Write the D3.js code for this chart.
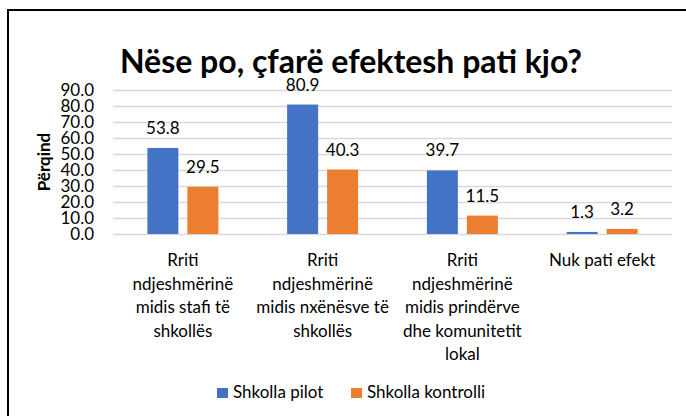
<!DOCTYPE html>
<html>
<head>
<meta charset="utf-8">
<script src="https://cdn.jsdelivr.net/npm/d3@7"></script>
<style>
  body { margin: 0; background: #fff; }
  text { font-family: Lato, "Liberation Sans", sans-serif; fill: #000; }
</style>
</head>
<body>
<div id="chart"></div>
<script>
// data
var categories = ["cat1", "cat2", "cat3", "cat4"];
var catLabels = [
  ["Rriti", "ndjeshmërinë", "midis stafi të", "shkollës"],
  ["Rriti", "ndjeshmërinë", "midis nxënësve të", "shkollës"],
  ["Rriti", "ndjeshmërinë", "midis prindërve", "dhe komunitetit", "lokal"],
  ["Nuk pati efekt"]
];
var seriesNames = ["Shkolla pilot", "Shkolla kontrolli"];
var pilot = [53.8, 80.9, 39.7, 1.3];
var kontrolli = [29.5, 40.3, 11.5, 3.2];
var yTicks = [0, 10, 20, 30, 40, 50, 60, 70, 80, 90];

var colors = ["#4472C4", "#ED7D31"];
var width = 686, height = 416;

var data = categories.map(function(c, i) {
  return { cat: c, values: [pilot[i], kontrolli[i]] };
});

var svg = d3.select("#chart")
  .append("svg")
  .attr("width", width)
  .attr("height", height);

// outer frame (cut off on the right and bottom)
svg.append("rect")
  .attr("x", 8).attr("y", 10)
  .attr("width", 720).attr("height", 440)
  .attr("fill", "none")
  .attr("stroke", "#000")
  .attr("stroke-width", 2);

// title
svg.append("text")
  .attr("x", 351).attr("y", 73)
  .attr("text-anchor", "middle")
  .style("font-weight", "bold")
  .style("font-size", "32px")
  .text("Nëse po, çfarë efektesh pati kjo?");

// scales
var x0 = d3.scaleBand()
  .domain(categories)
  .range([113, 672])
  .padding(0);

var x1 = d3.scaleBand()
  .domain([0, 1])
  .range([0, x0.bandwidth()])
  .paddingInner(0.225)
  .paddingOuter(0.86);

var y = d3.scaleLinear()
  .domain([0, 90])
  .range([234, 90]);

// gridlines
svg.append("g")
  .selectAll("line")
  .data(yTicks)
  .enter()
  .append("line")
  .attr("x1", 113).attr("x2", 672)
  .attr("y1", function(d) { return Math.round(y(d)) + 0.5; })
  .attr("y2", function(d) { return Math.round(y(d)) + 0.5; })
  .attr("stroke", "#d9d9d9")
  .attr("stroke-width", 1.3);

// y axis labels
var yAxis = svg.append("g")
  .attr("transform", "translate(100,0)")
  .call(d3.axisLeft(y).tickValues(yTicks).tickFormat(d3.format(".1f")).tickSize(0).tickPadding(6));
yAxis.select(".domain").remove();
yAxis.selectAll("text")
  .style("font-family", "Lato, sans-serif")
  .style("font-size", "17px")
  .attr("fill", "#000");

// y axis title
svg.append("text")
  .attr("transform", "translate(50,162)rotate(-90)")
  .attr("text-anchor", "middle")
  .style("font-weight", "bold")
  .style("font-size", "17px")
  .text("Përqind");

// bars
var groups = svg.append("g")
  .selectAll("g")
  .data(data)
  .enter()
  .append("g")
  .attr("transform", function(d) { return "translate(" + x0(d.cat) + ",0)"; });

groups.selectAll("rect")
  .data(function(d) { return d.values; })
  .enter()
  .append("rect")
  .attr("x", function(d, i) { return x1(i); })
  .attr("y", function(d) { return y(d); })
  .attr("width", x1.bandwidth())
  .attr("height", function(d) { return y(0) - y(d); })
  .attr("fill", function(d, i) { return colors[i]; });

// data labels
groups.selectAll("text")
  .data(function(d) { return d.values; })
  .enter()
  .append("text")
  .attr("x", function(d, i) { return x1(i) + x1.bandwidth() / 2; })
  .attr("y", function(d) { return y(d) - 14; })
  .attr("text-anchor", "middle")
  .style("font-size", "17px")
  .text(function(d) { return d3.format(".1f")(d); });

// category labels
var catG = svg.append("g")
  .selectAll("text")
  .data(categories)
  .enter()
  .append("text")
  .attr("text-anchor", "middle")
  .style("font-size", "17px")
  .attr("x", function(d) { return x0(d) + x0.bandwidth() / 2; })
  .attr("y", 266);

catG.selectAll("tspan")
  .data(function(d, i) { return catLabels[i]; })
  .enter()
  .append("tspan")
  .attr("x", function() { return this.parentNode.getAttribute("x"); })
  .attr("dy", function(d, i) { return i == 0 ? 0 : 23.5; })
  .text(function(d) { return d; });

// legend
var legendX = [217, 351];
var legend = svg.append("g")
  .selectAll("g")
  .data(seriesNames)
  .enter()
  .append("g")
  .attr("transform", function(d, i) { return "translate(" + legendX[i] + ",388)"; });

legend.append("rect")
  .attr("width", 11).attr("height", 10)
  .attr("fill", function(d, i) { return colors[i]; });

legend.append("text")
  .attr("x", 16).attr("y", 10)
  .style("font-size", "17px")
  .text(function(d) { return d; });
</script>
</body>
</html>
